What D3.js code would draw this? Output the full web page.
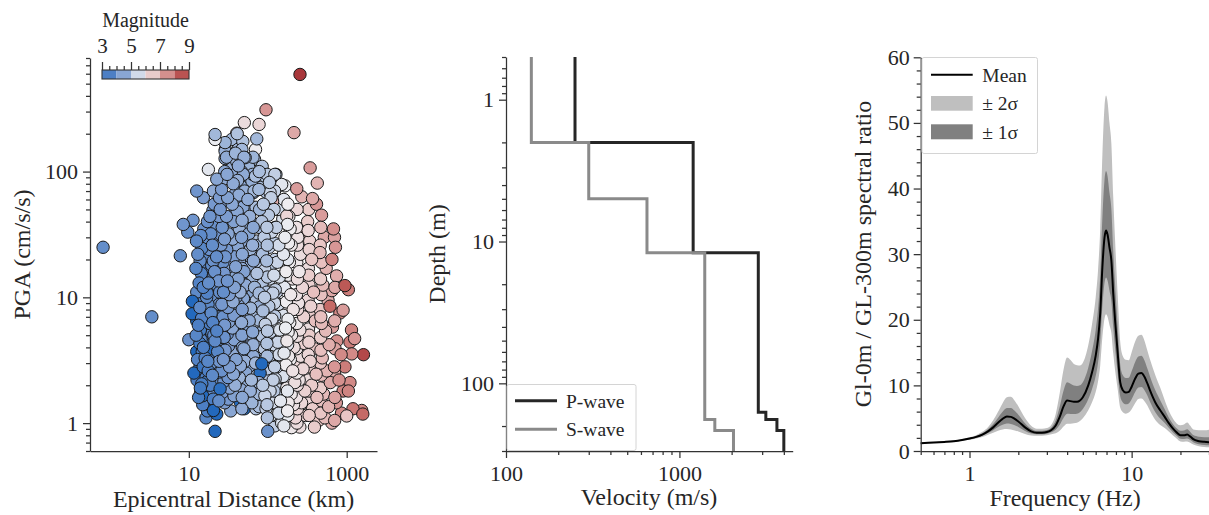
<!DOCTYPE html>
<html><head><meta charset="utf-8">
<script src="https://cdn.jsdelivr.net/npm/d3@7"></script>
<style>
body{margin:0;background:#fff;}
svg text{font-family:"Liberation Serif","Times New Roman",serif;fill:#262626;}
</style></head><body>
<svg id="c" width="1209" height="515"></svg>
<script>
// ---------- Panel (a): PGA vs epicentral distance ----------
const distanceKm = [
 0.82,3.4,7.8,10,8.5,9.7,11.3,
 12.5,13,12.3,13.5,12.6,14,12.8,13.2,12.4,13.8,12.9,13.5,12.7,14,13.3,15,
 15.5,16,15,16.5,15.2,16.8,15.6,16.2,15,16.6,15.3,16.1,15.2,16.5,15.8,17.5,16.5,
 18.5,19,18.2,19.5,18,19.8,18.6,19.2,18.3,19.6,18.8,19.4,18.1,19.9,18.7,20.5,19.5,
 21,22,21.5,22.5,21.2,22.8,21.6,23,21.8,22.6,21.4,23.2,22,21.1,23.5,22.2,24,
 26,25,26.5,25.5,27,25.8,27.5,26.2,27.2,25.4,26.8,25.6,27.4,26.1,27.8,26.5,28.5,
 30,29,30.5,31,30,31.5,30.2,32,30.8,32.5,31.2,32.2,30.6,31.8,30.3,32.8,31.4,33,31.6,34,
 35,36,36.5,35.5,37,35.8,37.5,36.2,37.8,36.4,37.2,35.6,37.6,36.1,37.9,36.7,38.5,37.3,
 41,42,40.5,42.4,41.5,43,41,43.5,41.8,44,42.2,44.5,42.6,44.2,42.8,44.8,43.2,45,43.6,45.5,
 48.3,50.5,40.5,50,49,51,48.5,51.5,49.5,52,50,52.5,49.2,51.8,50.2,52.2,49.8,51.2,53,50.8,54,
 57,58,56,59,57.5,60,58.5,61,57.8,60.5,58.2,61.5,59.4,61.2,58.6,62,60,63,
 72.6,70,77.6,68,70,67,71,68.5,72,69,73,68,71.5,69.5,72.5,68.8,71.8,70.2,73.5,69.8,72.8,71,
 85,82,88,84,90,86,92,84.5,91,87,93,85.5,90.5,88,94,86.5,92,95,
 95,115,127,105,110,102,112,104,114,106,116,103,113,108,118,105,111,117,107,115,110,
 130,135,128,138,132,140,129,137,131,142,134,139,130,143,136,145,138,150,
 150,165,160,155,165,158,170,162,172,157,168,175,161,170,156,174,166,178,160,
 185,192,198,188,205,195,210,190,200,215,193,207,220,198,212,225,200,215,233,174,
 256,270,240,260,250,275,245,285,255,290,262,280,250,295,268,300,255,
 306,344,424,369,415,320,340,360,330,380,350,400,335,390,345,410,360,420,370,440,390,
 459,480,520,550,500,580,470,540,600,490,560,620,510,590,530,650,614,
 745,650,680,720,650,900,820,660,750,850,700,800,900,740,860,
 950,1050,1260,1160,1630,1100,1550,1600,1000,1200,1050,1100,950,1150,
 14.2,14.6,13.9,14.4,14.1,14.7,13.8,14.5,14.0,14.3,14.8,13.9,14.4,14.6,14.1,
 17.2,17.6,17.0,17.4,17.8,17.1,17.5,16.9,17.3,17.7,17.0,17.4,17.6,17.1,17.5,17.2,
 20.2,20.6,19.9,20.4,20.8,20.0,20.5,20.9,20.1,20.7,20.3,19.8,20.6,20.2,20.9,20.4,
 24.5,24.1,24.8,24.3,24.9,24.0,24.6,24.2,24.7,24.4,24.0,24.8,24.3,24.6,24.1,24.5,
 28.5,28.1,28.8,28.3,28.9,28.0,28.6,28.2,28.7,28.4,28.0,28.8,28.3,28.6,28.1,28.5,
 39,38.6,39.4,38.8,39.6,38.5,39.2,38.9,39.5,38.7,39.3,38.6,39.1,39.7,38.8,39.4,
 47,46.5,47.5,46.8,47.3,46.6,47.6,46.9,47.2,46.7,47.4,46.5,47.1,47.7,46.8,47.3,46.6,47.5,47,
 65,64.3,65.8,64.6,65.5,64.2,65.9,64.8,65.3,64.5,65.7,64.4,65.2,65.9,64.7,65.4,64.9,
 78,77.2,78.8,77.5,78.5,77.1,78.9,77.8,78.3,77.4,78.7,77.3,78.1,78.9,77.6,78.4,77.9,
 98,97,99,97.5,98.5,96.8,99.2,97.8,98.3,97.2,99,97.5,98.1,99.3,97.6,98.4,97.9,98.8,
 122,120,124,121,123,119.5,124.5,121.5,122.5,120.5,123.5,121,122,124,120,123,121.5,122.5,
 180,178,183,179,182,177,184,180.5,181,178.5,183.5,179.5,182.5,177.5,181.5,180,
 235,232,238,233,237,231,239,234,236,232.5,238.5,233.5,236.5,231.5,237.5,234.5,
 330,325,335,327,333,324,336,328,332,326,334,329,331,325.5,334.5,
 470,462,478,466,474,460,480,468,472,464,476,467,473,469,
 700,710,705,712,702,708,704,
 11.1,11,11.6,12.6,12.6,20.5,21.5,22.6,44.8,50.5,100,84,80,17.7,17.5,18.6,17.8,20.3,24.9,15,16.8,19.5,
 12.6,15.3,17.7,22.6,20.5,27.5,35,63,92,123,107,21.5,21.5,28.8,28.8,28.8,51.8
];
const pgaCms2 = [
 25,7.0,21.4,4.6,38,33,41,
 28,22,17,13,11,9,7.8,6,5,4.3,3.2,2.7,2.2,1.9,1.6,1.4,
 35,26,19,15,12,10,8.4,6.8,5.6,4.8,4.0,3.3,2.8,2.3,1.95,1.5,1.1,
 44,32,24,18,14,11.5,9.5,7.5,6.2,5.2,4.2,3.5,2.9,2.4,2.0,1.7,1.35,
 55,38,28,21,16,12.5,10.2,8.2,6.6,5.4,4.5,3.7,3.0,2.5,2.1,1.8,1.5,
 72,50,36,26,19,14.5,11,8.8,7,5.8,4.8,3.9,3.2,2.6,2.15,1.75,1.45,
 130,150,95,62,44,32,24,17.5,13.5,10.5,8.3,6.4,5.1,4.1,3.4,2.8,2.3,1.9,1.55,1.25,
 180,110,80,55,40,29,21,15.5,12,9.2,7.2,5.7,4.6,3.7,3.0,2.45,2.0,1.65,
 200,150,120,111,85,65,48,35,25,19,14,11,8.6,6.8,5.3,4.3,3.5,2.85,2.3,1.85,
 174,245,202,130,95,70,52,38,28,21,16,12.5,9.8,7.6,6,4.8,3.9,3.1,2.5,2.05,1.65,
 110,80,60,44,32,24,17.5,13.5,10.5,8.2,6.5,5.1,4.1,3.3,2.7,2.2,1.8,1.45,
 182,150,237,125,92,70,52,38,28,21,15.5,12,9.4,7.3,5.8,4.6,3.7,3.0,2.4,1.95,1.6,1.3,
 110,75,55,40,30,22,16.5,12.8,10,7.8,6.1,4.9,3.9,3.1,2.5,2.0,1.65,1.3,
 310,58,95,82,62,45,33,25,18.5,14,10.8,8.5,6.7,5.3,4.2,3.4,2.75,2.2,1.8,1.45,1.15,
 75,50,36,26,19,14.5,11,8.8,7,5.5,4.4,3.5,2.8,2.3,1.85,1.5,1.2,1.0,
 79,77,60,42,30,22,16,12,9.2,7.2,5.7,4.5,3.6,2.9,2.35,1.9,1.55,1.25,0.95,
 44,35,26,19,14,10.5,8,6.3,5,4,3.2,2.6,2.1,1.7,1.4,1.1,0.92,204,73,44.4,
 592,63,30,22,16,12,9,7,5.5,4.3,3.4,2.7,2.2,1.8,1.45,1.15,0.93,
 33.5,107,81,61,55,40,28,20,15,11,8.5,6.5,5,3.9,3.1,2.45,2.0,1.6,1.3,1.05,0.93,
 22.7,45,30,17,12.5,9.5,7,5.4,4.2,3.3,2.6,2.1,1.7,1.35,1.1,1.0,8.5,
 14.8,11.3,35,25,20,7.9,7.5,5.8,4.5,3.5,2.8,2.2,1.8,1.45,1.2,
 12.4,11.5,4.7,3.55,3.5,4.4,1.26,1.18,1.14,1.3,1.8,2.1,2.8,5.5,
 31,24.5,19.5,15.5,12.5,10.2,8.3,6.8,5.5,4.6,3.7,3.0,2.45,2.05,1.75,
 40,29,21.5,16.5,13,10.8,8.8,7.2,5.9,4.9,4.0,3.1,2.6,2.15,1.8,1.25,
 49,35,26,19.5,15,11.8,9.6,7.8,6.3,5.0,4.0,3.25,2.7,2.25,1.9,1.55,
 62,44,32,23.5,17.5,13.5,11,8.8,7,5.7,4.6,3.8,3.1,2.55,2.1,1.7,
 100,58,40,29,21,15.5,12,9.5,7.5,6,4.8,3.8,3.0,2.4,1.95,1.6,
 140,95,68,47,33,24,17.5,13,10,7.8,6.2,5,4,3.2,2.6,2.1,
 150,100,75,56,41,30,22,17,13,10.2,8,6.3,5,4,3.2,2.6,2.1,1.6,1.3,
 130,95,68,50,36,26,19.5,14.5,11,8.6,6.8,5.3,4.2,3.4,2.7,2.2,1.75,
 100,72,50,36,26,19,14,10.8,8.4,6.6,5.2,4.1,3.3,2.6,2.1,1.7,1.35,
 95,68,50,36,26,19.5,14.5,11,8.6,6.8,5.4,4.3,3.4,2.7,2.2,1.75,1.4,1.1,
 70,50,36,27,20,15,11.5,9,7.1,5.6,4.4,3.5,2.8,2.25,1.8,1.45,1.15,0.95,
 55,38,27,20,15,11,8.5,6.7,5.3,4.2,3.4,2.75,2.2,1.8,1.45,1.15,
 50,36,26,19,14,10.5,8,6.2,4.9,3.9,3.1,2.5,2.0,1.6,1.3,1.0,
 50,34,24,17,12.5,9.5,7.2,5.6,4.4,3.5,2.8,2.2,1.8,1.45,1.15,
 36,26,19,14,10.5,8,6.2,4.8,3.8,3.0,2.4,1.9,1.5,1.2,
 30,12,6.5,3.9,2.5,1.6,1.05,
 9.3,7.4,2.5,3.7,6.5,1.26,0.86,1.18,1.47,1.3,0.86,2.96,2.5,3.9,2.96,2.5,2.0,1.7,1.87,1.65,1.56,1.75,
 70,62,104,87,70,87,90,84,92,95,68,197,180,170,145,127,129
];
const magnitude = [
 3.9,3.9,3.9,4.0,4.1,3.9,4.1,
 3.8,3.9,3.7,3.6,3.8,3.6,3.7,3.5,3.7,3.4,3.6,3.3,3.5,3.3,3.4,3.5,
 4.0,3.8,3.7,3.9,3.6,3.8,3.5,3.7,3.4,3.8,3.5,3.6,3.2,3.5,3.3,3.6,3.7,
 4.1,3.9,4.0,3.8,3.7,3.9,3.6,3.8,3.5,3.7,3.4,3.7,3.6,3.8,3.5,3.9,3.7,
 4.2,4.0,4.1,3.9,4.0,3.8,3.9,3.7,4.0,3.6,3.8,3.7,3.9,3.5,3.8,3.7,3.9,
 4.3,4.2,4.1,4.2,4.0,4.1,3.9,4.2,4.0,3.8,4.1,3.9,4.2,4.0,4.1,4.2,4.3,
 4.6,4.8,4.5,4.4,4.3,4.5,4.2,4.4,4.1,4.3,4.2,4.4,4.1,4.3,4.0,4.3,4.1,4.4,4.2,4.5,
 4.9,4.7,4.6,4.5,4.4,4.6,4.3,4.5,4.4,4.6,4.3,4.5,4.4,4.6,4.3,4.5,4.7,4.4,
 5.1,4.9,4.8,4.6,4.7,4.6,4.5,4.7,4.5,4.6,4.4,4.7,4.5,4.6,4.4,4.7,4.5,4.6,4.8,4.6,
 5.1,6.2,6.8,4.7,4.6,4.7,4.5,4.6,4.5,4.7,4.4,4.6,4.5,4.7,4.4,4.6,4.5,4.7,4.5,4.6,4.8,
 4.8,4.7,4.6,4.7,4.5,4.8,4.6,4.7,4.5,4.8,4.6,4.7,4.5,4.8,4.6,4.9,4.7,4.8,
 4.9,5.9,6.3,4.9,5.0,4.9,5.0,4.8,5.0,4.9,5.1,4.8,5.0,4.9,5.1,4.8,5.0,4.9,5.1,4.9,5.0,5.1,
 5.1,5.0,5.2,5.1,5.2,5.0,5.3,5.1,5.2,5.0,5.3,5.1,5.2,5.3,5.1,5.2,5.4,5.3,
 7.4,7.1,5.2,5.2,5.3,5.2,5.4,5.3,5.2,5.4,5.3,5.2,5.5,5.3,5.4,5.2,5.5,5.3,5.4,5.5,5.6,
 5.4,5.5,5.3,5.5,5.4,5.6,5.3,5.5,5.4,5.6,5.4,5.5,5.3,5.6,5.4,5.7,5.5,5.6,
 5.7,5.8,5.7,5.6,5.8,5.7,5.9,5.7,5.9,5.6,5.8,6.0,5.7,5.9,5.6,6.0,5.8,5.9,5.7,
 6.1,5.9,6.0,5.9,6.1,6.0,6.1,5.9,6.0,6.2,5.9,6.1,6.2,6.0,6.1,6.3,6.0,7.1,7.3,6.3,
 9.3,6.9,6.1,6.2,6.0,6.3,6.1,6.4,6.2,6.4,6.2,6.3,6.1,6.4,6.3,6.4,6.2,
 7.3,7.3,6.9,7.1,7.4,6.5,6.4,6.6,6.5,6.7,6.4,6.7,6.5,6.6,6.4,6.7,6.5,6.7,6.5,6.6,6.5,
 6.8,7.3,7.1,6.9,6.8,7.0,6.7,6.8,7.0,6.8,6.9,7.1,6.8,6.9,6.8,7.0,8.1,
 7.0,7.1,7.5,7.4,7.7,7.3,7.6,7.3,7.5,7.6,7.4,7.5,7.7,7.4,7.6,
 8.4,7.8,7.4,7.6,8.7,7.8,7.6,8.1,6.6,7.9,7.7,7.6,7.8,7.7,
 3.8,3.7,3.9,3.6,3.7,3.5,3.8,3.6,3.4,3.7,3.5,3.3,3.6,3.4,3.3,
 4.0,3.9,3.8,3.7,3.9,3.6,3.8,3.5,3.7,3.6,3.4,3.7,3.5,3.3,3.6,3.5,
 4.2,4.0,3.9,4.0,3.8,3.9,3.7,3.9,3.6,3.8,3.7,3.5,3.8,3.6,3.7,3.5,
 4.3,4.2,4.1,4.2,4.0,4.1,3.9,4.1,4.0,3.8,4.0,3.9,4.1,3.8,3.9,4.0,
 4.5,4.3,4.2,4.3,4.1,4.2,4.0,4.3,4.1,4.2,4.0,4.2,4.1,3.9,4.2,4.1,
 4.8,4.6,4.5,4.4,4.5,4.3,4.4,4.5,4.3,4.4,4.2,4.5,4.3,4.4,4.2,4.5,
 4.9,4.7,4.6,4.5,4.6,4.4,4.5,4.6,4.4,4.5,4.3,4.6,4.4,4.5,4.3,4.6,4.4,4.5,4.6,
 4.8,4.7,4.6,4.7,4.5,4.7,4.6,4.8,4.5,4.7,4.6,4.5,4.7,4.6,4.5,4.8,4.6,
 5.0,4.9,4.8,4.9,4.8,5.0,4.8,4.9,4.7,4.9,4.8,5.0,4.8,4.9,4.7,4.9,5.0,
 5.2,5.1,5.0,5.2,5.1,5.0,5.2,5.1,5.3,5.0,5.2,5.1,5.0,5.2,5.1,5.3,5.2,5.1,
 5.4,5.3,5.4,5.2,5.3,5.5,5.3,5.4,5.2,5.4,5.3,5.5,5.3,5.4,5.2,5.5,5.4,5.3,
 5.9,5.8,5.9,5.7,5.9,5.8,6.0,5.8,5.9,5.7,6.0,5.8,5.9,5.7,6.0,5.8,
 6.3,6.1,6.2,6.0,6.2,6.1,6.3,6.0,6.2,6.1,6.3,6.0,6.2,6.1,6.3,6.2,
 6.5,6.3,6.4,6.2,6.4,6.3,6.5,6.2,6.4,6.3,6.5,6.2,6.4,6.3,6.5,
 6.8,6.6,6.7,6.5,6.7,6.6,6.8,6.5,6.7,6.6,6.8,6.5,6.7,6.6,
 7.2,7.1,7.0,7.2,7.0,7.2,7.1,
 2.4,2.4,2.4,2.5,2.6,2.5,2.6,2.5,2.7,2.7,4.0,2.7,2.8,2.6,2.7,2.7,2.7,2.6,2.9,2.6,2.5,2.6,
 4.1,4.3,5.7,4.5,4.6,4.6,4.5,4.7,5.1,5.3,5.4,4.9,5.8,4.8,4.7,4.6,4.7
];
const pgaTicks = [1, 10, 100];
const distanceTicks = [10, 1000];
const magnitudeTicks = [3, 5, 7, 9];
const magnitudeBins = [3, 4, 5, 6, 7, 8, 9];

// ---------- Panel (b): velocity profile ----------
const layerTopM = [0.5, 2, 5, 12, 160, 180, 215];
const layerBottomM = 300;
const pWaveMs = [250, 1200, 1200, 2850, 3150, 3650, 4000];
const sWaveMs = [140, 300, 650, 1400, 1400, 1600, 2050];
const depthTicks = [1, 10, 100];
const velocityTicks = [100, 1000];

// ---------- Panel (c): spectral ratio ----------
const freqHz = [0.5,0.6,0.7,0.8,0.9,1.0,1.1,1.2,1.3,1.4,1.5,1.6,1.7,1.8,1.9,2.0,2.2,2.4,2.6,2.8,
 3.0,3.2,3.4,3.6,3.8,4.0,4.2,4.4,4.6,4.8,5.0,5.4,5.7,6.0,6.2,6.4,6.6,6.8,6.95,7.1,
 7.3,7.5,7.7,7.9,8.2,8.5,8.8,9.2,9.6,10,10.5,11,11.5,12,12.5,13,14,15,16,17,
 18,19,20,21,22,23,24,26,28,30];
const meanRatio = [1.2,1.28,1.38,1.5,1.68,1.9,2.15,2.5,3.0,3.6,4.3,4.9,5.25,5.2,4.9,4.5,3.6,3.0,2.8,2.8,
 2.9,3.2,3.9,5.2,6.8,7.7,7.6,7.5,7.5,7.7,8.2,10,12,14.5,17,21,28,32.5,33.6,33,
 31,29,24,20,15,10.5,9.3,8.9,9.0,9.8,11,11.8,11.9,11.3,10.3,9.2,7.4,6.2,5.2,4.2,
 3.4,2.8,2.4,2.4,2.5,2.2,1.8,1.5,1.4,1.35];
const sigmaFactor = [1.04,1.04,1.04,1.04,1.04,1.05,1.06,1.08,1.1,1.14,1.18,1.22,1.25,1.26,1.25,1.23,1.18,1.13,1.1,1.1,
 1.1,1.12,1.2,1.3,1.35,1.36,1.35,1.33,1.32,1.3,1.28,1.27,1.27,1.27,1.27,1.27,1.27,1.27,1.27,1.27,
 1.27,1.27,1.27,1.27,1.26,1.26,1.25,1.25,1.24,1.24,1.23,1.22,1.22,1.22,1.22,1.23,1.25,1.25,1.22,1.2,
 1.2,1.22,1.28,1.3,1.32,1.32,1.35,1.45,1.5,1.55];
const ratioTicks = [0, 10, 20, 30, 40, 50, 60];
const freqTicks = [1, 10];

// ---------- helpers ----------
const svg = d3.select('#c');
const FONT = '"Liberation Serif","Times New Roman",serif';
const AX = '#333';
const TICKFS = 22, LABFS = 24, LEGFS = 19.5;

function styleAxis(g, fs) {
  g.attr('font-family', FONT).attr('font-size', fs);
  g.selectAll('.domain').attr('stroke', AX).attr('stroke-width', 1.25);
  g.selectAll('.tick line').attr('stroke', AX).attr('stroke-width', 1.25);
  g.selectAll('.tick text').attr('fill', '#262626');
}
function minorLog(min, max, majors) {
  const out = [];
  for (let e = Math.floor(Math.log10(min)) - 1; e <= Math.ceil(Math.log10(max)); e++) {
    for (let k = 1; k < 10; k++) {
      const v = +(k * Math.pow(10, e)).toPrecision(6);
      if (v >= min * 0.999 && v <= max * 1.001 && !majors.includes(v)) out.push(v);
    }
  }
  return out;
}
function addAxis(parent, axisFn, transform, major, fmt, size, pad) {
  const g = parent.append('g').attr('transform', transform)
    .call(axisFn.tickValues(major).tickFormat(fmt).tickSize(size).tickSizeOuter(0).tickPadding(pad));
  styleAxis(g, TICKFS);
  return g;
}
function addMinor(parent, axisFn, transform, minor) {
  const g = parent.append('g').attr('transform', transform)
    .call(axisFn.tickValues(minor).tickFormat('').tickSize(4).tickSizeOuter(0));
  g.select('.domain').remove();
  styleAxis(g, TICKFS);
}
function axisLabel(text, x, y, rotate) {
  svg.append('text').attr('transform', `translate(${x},${y})` + (rotate ? ' rotate(-90)' : ''))
    .attr('text-anchor', 'middle').attr('font-size', LABFS).text(text);
}
const fmtInt = d3.format('d');

// ---------- Panel (a) ----------
const xA = d3.scaleLog().domain([0.56, 2420]).range([90, 377]);
const yA = d3.scaleLog().domain([0.6, 800]).range([451, 58]);
const vlag = d3.piecewise(d3.interpolateRgb, ["#2369bd","#4c7fc4","#7a9bcf","#adc0dd","#eeeff2","#e8c4c3","#d69593","#c2635f","#a9373b"]);
const color = d3.scaleSequential(vlag).domain([2.7, 9]).clamp(true);

const gA = svg.append('g');
const nPts = Math.min(distanceKm.length, pgaCms2.length, magnitude.length);
// fixed interleaved drawing order (a permutation only; values unchanged)
const order = d3.range(nPts).sort((a, b) => ((a * 7919) % 1009) - ((b * 7919) % 1009) || a - b);
gA.selectAll('circle').data(order).join('circle')
  .attr('cx', i => xA(distanceKm[i])).attr('cy', i => yA(pgaCms2[i])).attr('r', 6.2)
  .attr('fill', i => color(magnitude[i])).attr('stroke', '#1a1a1a').attr('stroke-width', 1);

addAxis(svg, d3.axisBottom(xA), 'translate(0,451)', distanceTicks, fmtInt, 7, 7);
addAxis(svg, d3.axisLeft(yA), 'translate(90,0)', pgaTicks, fmtInt, 7, 5);
addMinor(svg, d3.axisLeft(yA), 'translate(90,0)', minorLog(0.6, 800, pgaTicks));
axisLabel('Epicentral Distance (km)', 233.5, 507, false);
axisLabel('PGA (cm/s/s)', 30, 254.5, true);

// colourbar
const cb = d3.scaleLinear().domain([3, 9]).range([102, 189]);
const gCB = svg.append('g');
gCB.selectAll('rect.bin').data(magnitudeBins.slice(0, -1)).join('rect').attr('class', 'bin')
  .attr('x', d => cb(d)).attr('y', 70).attr('width', d => cb(d + 1) - cb(d)).attr('height', 9)
  .attr('fill', d => color(d + 0.5));
gCB.append('rect').attr('x', cb(3)).attr('y', 70).attr('width', cb(9) - cb(3)).attr('height', 9)
  .attr('fill', 'none').attr('stroke', AX).attr('stroke-width', 1.1);
const cbAxis = gCB.append('g').attr('transform', 'translate(0,70)')
  .call(d3.axisTop(cb).tickValues(magnitudeTicks).tickFormat(fmtInt).tickSize(8).tickSizeOuter(0).tickPadding(9));
styleAxis(cbAxis, 21);
cbAxis.select('.domain').remove();
const cbMinor = gCB.append('g').attr('transform', 'translate(0,70)')
  .call(d3.axisTop(cb).tickValues(d3.range(3.5, 9, 0.5).filter(v => !magnitudeTicks.includes(v))).tickFormat('').tickSize(4).tickSizeOuter(0));
cbMinor.select('.domain').remove();
styleAxis(cbMinor, 21);
svg.append('text').attr('x', 145.5).attr('y', 27).attr('text-anchor', 'middle').attr('font-size', 20).text('Magnitude');

// ---------- Panel (b) ----------
const xB = d3.scaleLog().domain([100, 4500]).range([506, 792.7]);
const yB = d3.scaleLog().domain([0.5, 300]).range([57, 451]);
function profile(vel) {
  const pts = [];
  vel.forEach((v, i) => {
    const top = layerTopM[i], bot = i + 1 < layerTopM.length ? layerTopM[i + 1] : layerBottomM;
    pts.push([v, top], [v, bot]);
  });
  return pts;
}
const lineB = d3.line().x(d => xB(d[0])).y(d => yB(d[1]));
svg.append('path').attr('d', lineB(profile(pWaveMs))).attr('fill', 'none').attr('stroke', '#262626').attr('stroke-width', 3);
svg.append('path').attr('d', lineB(profile(sWaveMs))).attr('fill', 'none').attr('stroke', '#8a8a8a').attr('stroke-width', 3);
addAxis(svg, d3.axisBottom(xB), 'translate(0,451)', velocityTicks, fmtInt, 7, 7);
addMinor(svg, d3.axisBottom(xB), 'translate(0,451)', minorLog(100, 4500, velocityTicks));
addAxis(svg, d3.axisLeft(yB), 'translate(506,0)', depthTicks, fmtInt, 7, 5);
addMinor(svg, d3.axisLeft(yB), 'translate(506,0)', minorLog(0.5, 300, depthTicks));
axisLabel('Velocity (m/s)', 649, 505, false);
axisLabel('Depth (m)', 445, 254, true);
const legB = svg.append('g');
legB.append('rect').attr('x', 507).attr('y', 384.5).attr('width', 129).attr('height', 66).attr('rx', 2)
  .attr('fill', '#fff').attr('fill-opacity', 0.85).attr('stroke', '#d4d4d4').attr('stroke-width', 1);
[['P-wave', '#262626', 400.7], ['S-wave', '#8a8a8a', 429.3]].forEach(([t, c, y]) => {
  legB.append('line').attr('x1', 515).attr('x2', 557).attr('y1', y).attr('y2', y).attr('stroke', c).attr('stroke-width', 3);
  legB.append('text').attr('x', 566).attr('y', y + 7).attr('font-size', LEGFS).text(t);
});

// ---------- Panel (c) ----------
const xC = d3.scaleLog().domain([0.5, 30]).range([920.7, 1209]);
const yC = d3.scaleLinear().domain([0, 60]).range([451, 57.3]);
function band(k) {
  return d3.area().x((d, i) => xC(freqHz[i]))
    .y0((d, i) => yC(meanRatio[i] / Math.pow(sigmaFactor[i], k)))
    .y1((d, i) => yC(meanRatio[i] * Math.pow(sigmaFactor[i], k)))
    .curve(d3.curveMonotoneX)(freqHz);
}
svg.append('path').attr('d', band(2)).attr('fill', '#bfbfbf');
svg.append('path').attr('d', band(1)).attr('fill', '#808080');
svg.append('path').attr('d', d3.line().x((d, i) => xC(freqHz[i])).y((d, i) => yC(meanRatio[i])).curve(d3.curveMonotoneX)(freqHz))
  .attr('fill', 'none').attr('stroke', '#000').attr('stroke-width', 2);
addAxis(svg, d3.axisBottom(xC), 'translate(0,451)', freqTicks, fmtInt, 7, 7);
addMinor(svg, d3.axisBottom(xC), 'translate(0,451)', minorLog(0.5, 30, freqTicks));
addAxis(svg, d3.axisLeft(yC), 'translate(920.7,0)', ratioTicks, fmtInt, 7, 4);
addMinor(svg, d3.axisLeft(yC), 'translate(920.7,0)', d3.range(2, 60, 2).filter(v => v % 10 !== 0));
axisLabel('Frequency (Hz)', 1065, 506, false);
axisLabel('Gl-0m / GL-300m spectral ratio', 871, 254, true);
const legC = svg.append('g');
legC.append('rect').attr('x', 922).attr('y', 57.5).attr('width', 115.5).attr('height', 96).attr('rx', 2)
  .attr('fill', '#fff').attr('fill-opacity', 0.85).attr('stroke', '#d4d4d4').attr('stroke-width', 1);
legC.append('line').attr('x1', 931).attr('x2', 972.7).attr('y1', 74.7).attr('y2', 74.7).attr('stroke', '#000').attr('stroke-width', 2);
legC.append('text').attr('x', 982.3).attr('y', 81.7).attr('font-size', LEGFS).text('Mean');
legC.append('rect').attr('x', 931).attr('y', 96).attr('width', 41.7).attr('height', 14.7).attr('fill', '#bfbfbf');
legC.append('text').attr('x', 982.3).attr('y', 110).attr('font-size', LEGFS).text('± 2σ');
legC.append('rect').attr('x', 931).attr('y', 124.3).attr('width', 41.7).attr('height', 15).attr('fill', '#808080');
legC.append('text').attr('x', 982.3).attr('y', 139).attr('font-size', LEGFS).text('± 1σ');
</script>
</body></html>
